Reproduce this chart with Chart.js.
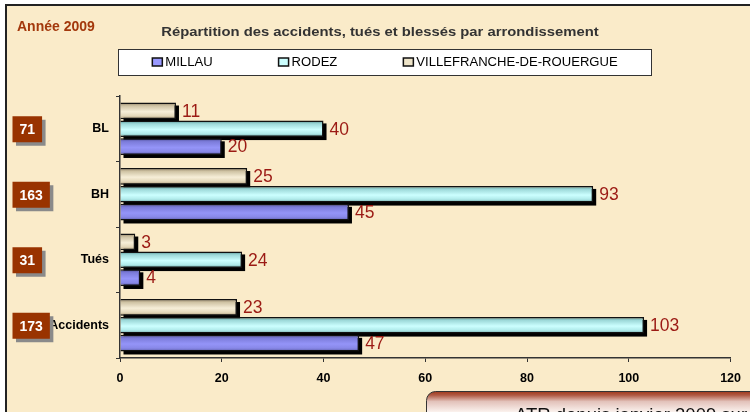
<!DOCTYPE html>
<html>
<head>
<meta charset="utf-8">
<script src="https://cdn.jsdelivr.net/npm/chart.js@4.4.0/dist/chart.umd.min.js"></script>
<style>
  html, body { margin: 0; padding: 0; background: #fff; }
  canvas { display: block; }
</style>
</head>
<body>
<canvas id="accidentsChart" width="750" height="412"></canvas>
<script>
// categories top -> bottom, as in the picture
const categories = ['BL', 'BH', 'Tués', 'Accidents'];
const millau = [20, 45, 4, 47];
const rodez = [40, 93, 24, 103];
const villefranche = [11, 25, 3, 23];
const totals = [71, 163, 31, 173];
const xTicks = [0, 20, 40, 60, 80, 100, 120];

const chartTitle = 'Répartition des accidents, tués et blessés par arrondissement';
const yearLabel = 'Année 2009';
const footerText = 'ATR depuis janvier 2009 sur';

const CREAM = '#FAEBC9';

// vertical gradient across each bar, falls back to plain colour on first pass
function barFill(stops, fallback) {
    return (c) => {
        const el = c.element;
        if (!el || !isFinite(el.y) || !isFinite(el.height) || !el.height) return fallback;
        const g = c.chart.ctx.createLinearGradient(0, el.y - el.height / 2, 0, el.y + el.height / 2);
        stops.forEach(([p, col]) => g.addColorStop(p, col));
        return g;
    };
}

const frame = {
    id: 'frame',
    beforeDraw(chart) {
        const ctx = chart.ctx;
        ctx.save();
        ctx.fillStyle = '#fff';
        ctx.fillRect(0, 0, chart.width, chart.height);
        ctx.fillStyle = CREAM;
        ctx.fillRect(5, 4, chart.width, chart.height);
        ctx.strokeStyle = '#222';
        ctx.lineWidth = 2;
        ctx.beginPath();
        ctx.moveTo(6, chart.height + 2);
        ctx.lineTo(6, 5);
        ctx.lineTo(chart.width + 2, 5);
        ctx.stroke();

        // year
        ctx.fillStyle = '#A3380C';
        ctx.font = 'bold 14px Arial, "Liberation Sans", sans-serif';
        ctx.textBaseline = 'middle';
        ctx.fillText(yearLabel, 17, 27);

        // title (slightly stretched like the original)
        ctx.fillStyle = '#333';
        ctx.font = 'bold 13px Arial, "Liberation Sans", sans-serif';
        ctx.textAlign = 'center';
        ctx.translate(380, 32);
        ctx.scale(1.14, 1);
        ctx.fillText(chartTitle, 0, 0);
        ctx.restore();
    }
};

// solid black drop shadow behind every bar (the bar element clips its own drawing)
const barShadow = {
    id: 'barShadow',
    beforeDatasetsDraw(chart) {
        const ctx = chart.ctx;
        ctx.save();
        ctx.fillStyle = '#000';
        chart.data.datasets.forEach((ds, i) => {
            chart.getDatasetMeta(i).data.forEach((el) => {
                const { x, y, base, height } = el.getProps(['x', 'y', 'base', 'height'], true);
                ctx.fillRect(Math.min(x, base) + 3, y - height / 2 + 3, Math.abs(x - base), height);
            });
        });
        ctx.restore();
    }
};

const extras = {
    id: 'extras',
    afterDraw(chart) {
        const ctx = chart.ctx;
        const yScale = chart.scales.y;
        ctx.save();

        // value labels
        ctx.font = '17.5px Arial, "Liberation Sans", sans-serif';
        ctx.fillStyle = '#9B1A14';
        ctx.textBaseline = 'middle';
        ctx.textAlign = 'left';
        chart.data.datasets.forEach((ds, i) => {
            chart.getDatasetMeta(i).data.forEach((el, j) => {
                ctx.fillText(String(ds.data[j]), el.x + 6, el.y + 1);
            });
        });

        // totals boxes on the left
        ctx.font = 'bold 14px Arial, "Liberation Sans", sans-serif';
        ctx.textAlign = 'center';
        totals.forEach((t, i) => {
            const cy = yScale.getPixelForValue(i) + 0.5;
            const w = ctx.measureText(String(t)).width + 14;
            const x = 12.5, h = 26, y = cy - h / 2;
            ctx.fillStyle = '#8A8A8A';
            ctx.fillRect(x + 3.5, y + 3.5, w, h);
            ctx.fillStyle = '#993300';
            ctx.fillRect(x, y, w, h);
            ctx.fillStyle = '#fff';
            ctx.fillText(String(t), x + w / 2, cy + 1);
        });

        // legend box
        ctx.fillStyle = '#fff';
        ctx.fillRect(118, 49, 534, 27);
        ctx.strokeStyle = '#333';
        ctx.lineWidth = 1;
        ctx.strokeRect(118.5, 49.5, 533, 26);
        const items = chart.data.datasets.slice().reverse();
        const sx = 1.09;
        ctx.font = '12px Arial, "Liberation Sans", sans-serif';
        const widths = items.map(d => 13 + ctx.measureText(d.label).width * sx);
        const total = widths.reduce((a, b) => a + b, 0) + 66 * (items.length - 1);
        let lx = 385 - total / 2;
        ctx.textAlign = 'left';
        items.forEach((d, i) => {
            ctx.fillStyle = d.legendColor;
            ctx.fillRect(lx, 58, 10, 8);
            ctx.strokeStyle = '#111';
            ctx.lineWidth = 1.5;
            ctx.strokeRect(lx, 58, 10, 8);
            ctx.save();
            ctx.translate(lx + 13, 62.5);
            ctx.scale(sx, 1);
            ctx.fillStyle = '#000';
            ctx.fillText(d.label, 0, 0);
            ctx.restore();
            lx += widths[i] + 66;
        });

        // footer box (cut by the bottom edge)
        const g = ctx.createLinearGradient(0, 391, 0, 412);
        g.addColorStop(0, '#9E3618');
        g.addColorStop(0.2, '#B05A44');
        g.addColorStop(0.5, '#E2C2BA');
        g.addColorStop(1, '#FBF2EE');
        ctx.beginPath();
        ctx.roundRect(426.5, 391.5, 360, 60, 9);
        ctx.fillStyle = g;
        ctx.fill();
        ctx.strokeStyle = '#333';
        ctx.lineWidth = 1;
        ctx.stroke();
        ctx.fillStyle = '#111';
        ctx.font = '18.5px Arial, "Liberation Sans", sans-serif';
        ctx.textBaseline = 'alphabetic';
        ctx.fillText(footerText, 515, 421);

        ctx.restore();
    }
};

const chart = new Chart(document.getElementById('accidentsChart'), {
    type: 'bar',
    data: {
        labels: categories,
        datasets: [
            {
                label: 'VILLEFRANCHE-DE-ROUERGUE',
                data: villefranche,
                legendColor: '#EEE4C8',
                backgroundColor: barFill([[0, '#8E7E62'], [0.2, '#CFC3A4'], [0.55, '#F6EED8'], [0.8, '#E4D8BA'], [1, '#A89878']], '#EEE4C8')
            },
            {
                label: 'RODEZ',
                data: rodez,
                legendColor: '#CCFFFF',
                backgroundColor: barFill([[0, '#4E8A8A'], [0.2, '#9CD8D8'], [0.55, '#CCFFFF'], [0.8, '#B0EAEA'], [1, '#6A9E9E']], '#CCFFFF')
            },
            {
                label: 'MILLAU',
                data: millau,
                legendColor: '#9999FF',
                backgroundColor: barFill([[0, '#4E4E96'], [0.2, '#7C7CDA'], [0.55, '#9494F8'], [0.8, '#8888E8'], [1, '#5A5AA4']], '#9999FF')
            }
        ]
    },
    options: {
        indexAxis: 'y',
        responsive: false,
        animation: false,
        devicePixelRatio: 1,
        layout: { padding: { top: 96, left: 0, right: 15, bottom: 24 } },
        datasets: {
            bar: {
                borderColor: '#111',
                borderWidth: 1.5,
                categoryPercentage: 0.82,
                barPercentage: 0.93
            }
        },
        scales: {
            x: {
                type: 'linear',
                min: xTicks[0],
                max: xTicks[xTicks.length - 1],
                afterBuildTicks: (s) => { s.ticks = xTicks.map(v => ({ value: v })); },
                afterFit: (s) => { s.height = 30; },
                grid: { drawOnChartArea: false, tickLength: 4, color: '#333', lineWidth: 1 },
                border: { color: '#333', width: 1.5 },
                ticks: {
                    padding: 9,
                    color: '#000',
                    font: { family: 'Arial, "Liberation Sans", sans-serif', size: 12.5, weight: 'bold' }
                }
            },
            y: {
                afterFit: (s) => { s.width = 120; },
                grid: { drawOnChartArea: false, tickLength: 4, color: '#333', lineWidth: 1, offset: true },
                border: { color: '#333', width: 1.5 },
                ticks: {
                    padding: 7,
                    color: '#000',
                    font: { family: 'Arial, "Liberation Sans", sans-serif', size: 12.5, weight: 'bold' }
                }
            }
        },
        plugins: {
            legend: { display: false },
            title: { display: false },
            tooltip: { enabled: false }
        }
    },
    plugins: [frame, barShadow, extras]
});

// second pass so the gradients can use the bar positions
chart.update();
</script>
</body>
</html>
